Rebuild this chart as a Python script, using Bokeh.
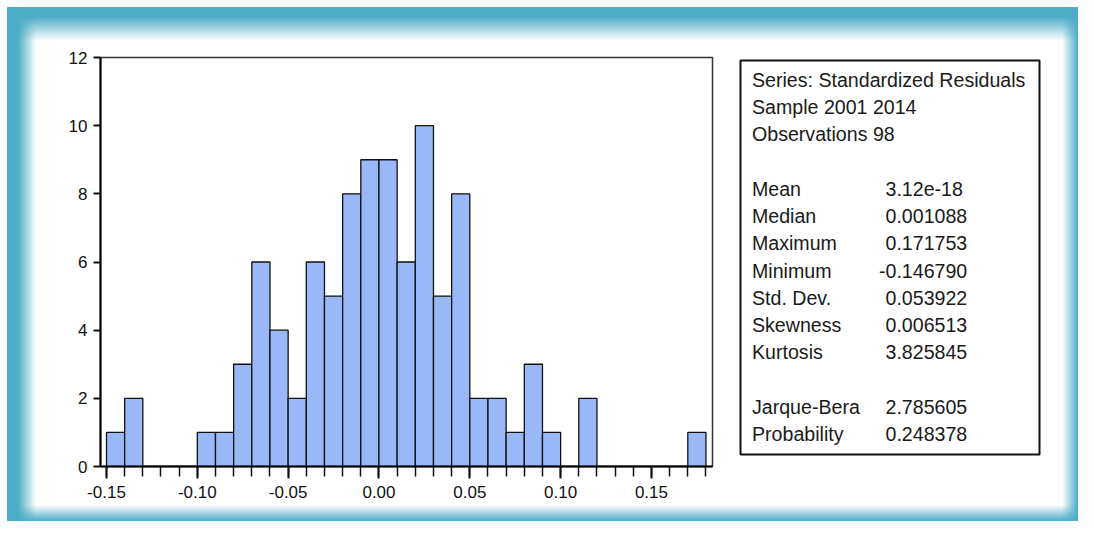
from bokeh.plotting import figure
from bokeh.layouts import row
from bokeh.models import Range1d, FixedTicker, NumeralTickFormatter, ColumnDataSource
from bokeh.core.properties import value
from bokeh.embed import file_html
from bokeh.resources import INLINE

# ---------------- data ----------------
bin_edges = [-0.15, -0.14, -0.13, -0.12, -0.11, -0.10, -0.09, -0.08, -0.07, -0.06,
             -0.05, -0.04, -0.03, -0.02, -0.01, 0.00, 0.01, 0.02, 0.03, 0.04,
             0.05, 0.06, 0.07, 0.08, 0.09, 0.10, 0.11, 0.12, 0.13, 0.14,
             0.15, 0.16, 0.17, 0.18]
counts = [1, 2, 0, 0, 0, 1, 1, 3, 6, 4,
          2, 6, 5, 8, 9, 9, 6, 10, 5, 8,
          2, 2, 1, 3, 1, 0, 2, 0, 0, 0,
          0, 0, 1]

x_tick_values = [-0.15, -0.10, -0.05, 0, 0.05, 0.10, 0.15]
x_tick_labels = ["-0.15", "-0.10", "-0.05", "0.00", "0.05", "0.10", "0.15"]
y_tick_values = [0, 2, 4, 6, 8, 10, 12]

header_lines = ["Series: Standardized Residuals", "Sample 2001 2014", "Observations 98"]
stat_names = ["Mean", "Median", "Maximum", "Minimum", "Std. Dev.", "Skewness", "Kurtosis"]
stat_values = ["3.12e-18", "0.001088", "0.171753", "-0.146790", "0.053922", "0.006513", "3.825845"]
test_names = ["Jarque-Bera", "Probability"]
test_values = ["2.785605", "0.248378"]

# ---------------- layout constants ----------------
W, H = 1078, 521
SPLIT = 726                          # width of histogram figure
FL, FR, FT, FB = 100, 712, 57, 466   # histogram frame (canvas px)
F2L, F2R = 730, 1050                 # stats figure frame (canvas px)
BL, BR, BT, BB = 740, 1039, 60, 454  # stats box (canvas px)
TEAL = "#4DADC6"
T0 = "rgba(77,173,198,0)"
FONT = "Liberation Sans"
INK = "#111111"

# ---------------- histogram ----------------
p = figure(width=SPLIT, height=H, output_backend="svg", toolbar_location=None, title=None,
           x_range=Range1d(-0.1533, 0.1836), y_range=Range1d(0, 12),
           min_border_left=FL, min_border_right=SPLIT - FR,
           min_border_top=FT, min_border_bottom=H - FB)
p.border_fill_alpha = 0
p.background_fill_color = "white"
p.outline_line_color = "#333333"
p.outline_line_width = 1.5
p.xgrid.visible = False
p.ygrid.visible = False

p.quad(left=bin_edges[:-1], right=bin_edges[1:], bottom=0, top=counts,
       fill_color="#9AB8F8", line_color=INK, line_width=1.3)

xa = p.xaxis[0]
xa.ticker = FixedTicker(ticks=x_tick_values, minor_ticks=bin_edges)
xa.formatter = NumeralTickFormatter(format="0.00")
xa.major_label_overrides = {v: s for v, s in zip(x_tick_values, x_tick_labels)}
xa.axis_line_width = 2
xa.axis_line_color = "#000000"
xa.major_tick_in = 0
xa.major_tick_out = 12
xa.minor_tick_in = 0
xa.minor_tick_out = 10
xa.major_tick_line_width = 2
xa.minor_tick_line_width = 1.5
xa.major_tick_line_color = INK
xa.minor_tick_line_color = INK
xa.major_label_standoff = 7
xa.major_label_text_font = FONT
xa.major_label_text_font_size = "17px"
xa.major_label_text_color = INK

ya = p.yaxis[0]
ya.ticker = FixedTicker(ticks=y_tick_values)
ya.axis_line_width = 2
ya.axis_line_color = "#000000"
ya.major_tick_in = 0
ya.major_tick_out = 7
ya.major_tick_line_width = 2
ya.major_tick_line_color = INK
ya.minor_tick_line_color = None
ya.major_label_standoff = 6
ya.major_label_text_font = FONT
ya.major_label_text_font_size = "17px"
ya.major_label_text_color = INK

# ---------------- stats box ----------------
W2 = W - SPLIT
p2 = figure(width=W2, height=H, output_backend="svg", toolbar_location=None, title=None,
            x_axis_location=None, y_axis_location=None,
            x_range=Range1d(F2L, F2R), y_range=Range1d(FB, FT),
            min_border_left=F2L - SPLIT, min_border_right=W - F2R,
            min_border_top=FT, min_border_bottom=H - FB)
p2.border_fill_alpha = 0
p2.background_fill_alpha = 0
p2.outline_line_color = None
p2.xgrid.visible = False
p2.ygrid.visible = False

p2.quad(left=[BL], right=[BR], top=[BT], bottom=[BB],
        fill_color="white", line_color=INK, line_width=2)

LINE0, STEP = BT + 19.5, 27.23
NAME_X, VAL_X, MINUS_W = BL + 11.5, BL + 145, 6.5
xs, ys, txt = [], [], []
slot = 0
for t in header_lines:
    xs.append(NAME_X); ys.append(LINE0 + slot * STEP); txt.append(t)
    slot += 1
for names, vals in ((stat_names, stat_values), (test_names, test_values)):
    slot += 1
    for n, v in zip(names, vals):
        y = LINE0 + slot * STEP
        xs.append(NAME_X); ys.append(y); txt.append(n)
        xs.append(VAL_X - (MINUS_W if v.startswith("-") else 0)); ys.append(y); txt.append(v)
        slot += 1

src = ColumnDataSource(dict(x=xs, y=ys, text=txt))
p2.text(x="x", y="y", text="text", source=src, text_font=value(FONT),
        text_font_size="19.6px", text_color="#1a1a1a",
        text_baseline="middle", text_align="left")

layout = row(p, p2, spacing=0)
layout.styles = {
    "background-color": "#ffffff",
    "background-image": (
        "linear-gradient(to bottom, #ffffff 0px, #ffffff 7px, rgba(255,255,255,0) 7px), "
        "linear-gradient(to right, #ffffff 0px, #ffffff 7px, rgba(255,255,255,0) 7px), "
        f"linear-gradient(to right, {TEAL} 7px, {TEAL} 18px, {T0} 36px, {T0} calc(100% - 16px), {TEAL} 100%), "
        f"linear-gradient(to bottom, {TEAL} 7px, {TEAL} 17px, {T0} 41px, {T0} calc(100% - 16px), {TEAL} 100%)"
    ),
}

open("out.html", "w").write(file_html(layout, INLINE))
